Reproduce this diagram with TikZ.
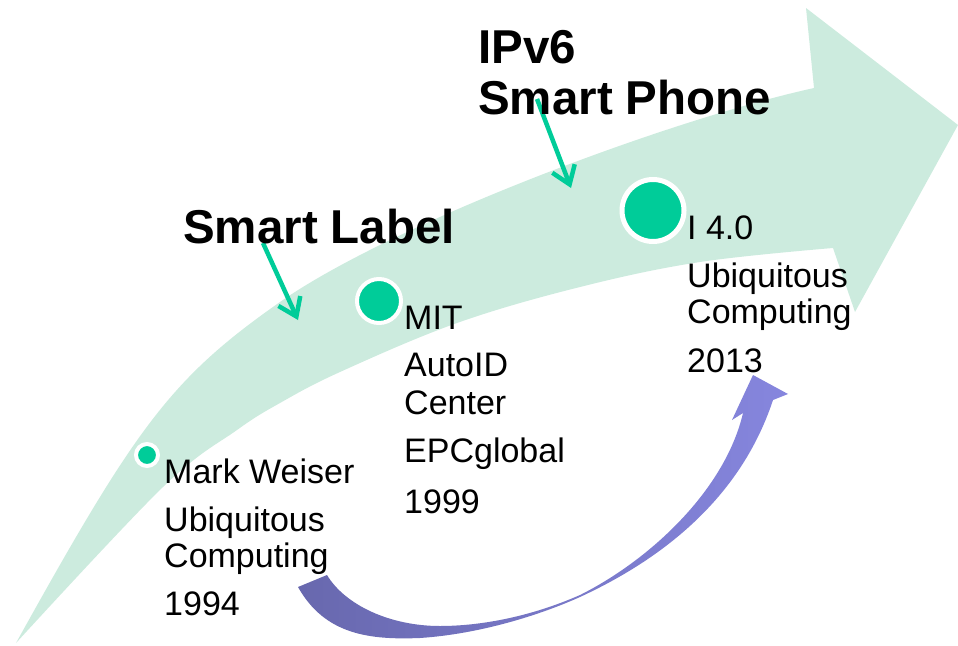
\documentclass[tikz,border=0pt]{standalone}
\usepackage{fontspec}
\setmainfont{Liberation Sans}
\usetikzlibrary{arrows.meta}
\definecolor{band}{RGB}{204,235,222}
\definecolor{dot}{RGB}{0,204,153}
\definecolor{purpA}{RGB}{104,104,174}
\definecolor{purpB}{RGB}{134,134,222}
\begin{document}
\begin{tikzpicture}[x=1pt,y=-1pt,
  dotnode/.style={circle, fill=dot, draw=white, inner sep=0pt},
  body/.style={font=\fontsize{34}{36}\selectfont, align=left, anchor=base west, inner sep=0pt},
  title/.style={font=\fontsize{47.5}{51}\selectfont\bfseries, align=left, anchor=base west, inner sep=0pt},
  callout/.style={draw=dot, line width=4.5pt, -{Straight Barb[length=17pt,width=24pt]}},
]
\useasboundingbox (0,0) rectangle (958,645);
% big sweeping arrow
\fill[band] (16,643) .. controls (136,427) and (170,379) .. (280,302)
  .. controls (390,225) and (664,121) .. (814,88)
  -- (806,8) -- (958,125) -- (855,312) -- (833,248)
  -- plot[smooth, tension=0.6] coordinates {(833,248) (700,262) (580,287) (457,323) (340,372) (280,403) (237,430) (163,487) (16,643)} -- cycle;
% purple curved up arrow
\shade[left color=purpA, right color=purpB]
  (298,587) .. controls (325,635) and (370,640) .. (420,638)
  .. controls (480,634) and (540,615) .. (580,597)
  .. controls (660,560) and (740,500) .. (773,400)
  -- (788,394) -- (753,375) -- (732,420) -- (743,413)
  .. controls (725,490) and (650,560) .. (580,595)
  .. controls (530,617) and (480,626) .. (440,626)
  .. controls (390,626) and (345,605) .. (327,575) -- cycle;
% callout arrows
\coordinate (slfrom) at (263,243);
\coordinate (slto) at (298,320);
\coordinate (spfrom) at (537,99);
\coordinate (spto) at (571,188);
\draw[callout] (slfrom) -- (slto);
\draw[callout] (spfrom) -- (spto);
% milestone dots
\node[dotnode, minimum size=22pt, line width=4pt] (d1) at (147,455) {};
\node[dotnode, minimum size=44pt, line width=4pt] (d2) at (379,301) {};
\node[dotnode, minimum size=62pt, line width=5pt] (d3) at (653,210.5) {};
% texts (base anchor = baseline of the last line)
\node[title] (smartlabel) at (183,243) {Smart Label};
\node[title] (ipv6) at (478,114) {IPv6\\Smart Phone};
\node[body] (t1) at (164,615) {Mark Weiser\\[12pt]Ubiquitous\\Computing\\[12pt]1994};
\node[body] (t2) at (404,513) {MIT\\[11pt]AutoID\\[2pt]Center\\[12pt]EPCglobal\\[15pt]1999};
\node[body] (t3) at (687,372) {I 4.0\\[12pt]Ubiquitous\\Computing\\[13pt]2013};
\end{tikzpicture}
\end{document}
